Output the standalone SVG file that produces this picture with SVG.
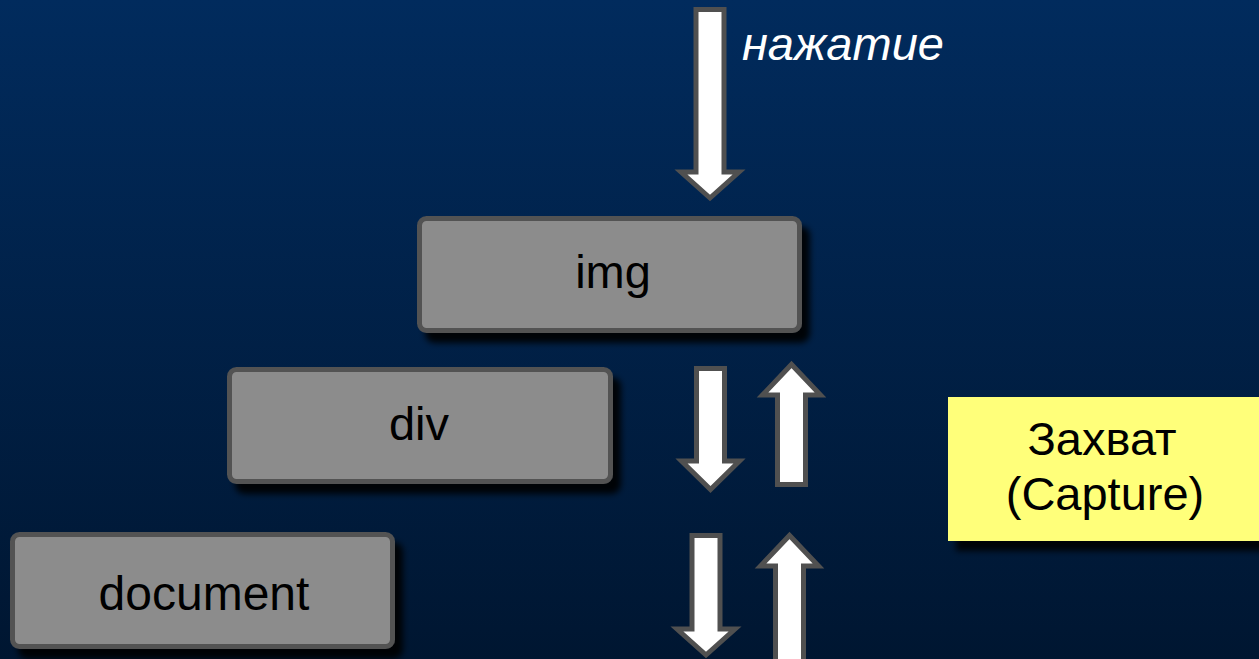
<svg xmlns="http://www.w3.org/2000/svg" width="1259" height="659" viewBox="0 0 1259 659">
  <defs>
    <linearGradient id="bg" x1="0" y1="0" x2="0" y2="1">
      <stop offset="0" stop-color="#012b5d"/>
      <stop offset="1" stop-color="#001631"/>
    </linearGradient>
    <filter id="shadow" x="-10%" y="-20%" width="130%" height="150%">
      <feDropShadow dx="8" dy="10" stdDeviation="3" flood-color="#000" flood-opacity="0.9"/>
    </filter>
  </defs>
  <style>
    .box { fill: #8c8c8c; stroke: #525252; stroke-width: 5; }
    .lbl { font-family: "Liberation Sans", Arial, sans-serif; font-size: 47px; fill: #000; text-anchor: middle; }
    .arrow { fill: #fff; stroke: #505050; stroke-width: 5; stroke-linejoin: miter; stroke-miterlimit: 10; }
    .note { fill: #ffff7a; }
    .click { font-family: "Liberation Sans", Arial, sans-serif; font-size: 47px; font-style: italic; fill: #fff; }
  </style>

  <rect width="1259" height="659" fill="url(#bg)"/>

  <g id="connectors">
    <!-- incoming click -->
    <path class="arrow" d="M696,9.5 H724 V172 H739 L710,198 L681,172 H696 Z"/>
    <!-- between img and div -->
    <path class="arrow" d="M696.5,368.5 H724.5 V461 H739.5 L710.5,489.5 L681.5,461 H696.5 Z"/>
    <path class="arrow" d="M777.5,484.5 H805.5 V395 H820.5 L791.5,364.5 L762.5,395 H777.5 Z"/>
    <!-- between div and document -->
    <path class="arrow" d="M692,535.5 H720 V629 H735 L706,655 L677,629 H692 Z"/>
    <path class="arrow" d="M775.5,664 H803.5 V566 H818.5 L789.5,535.5 L760.5,566 H775.5 Z"/>
  </g>

  <text id="click-label" class="click" x="742" y="60">нажатие</text>

  <g id="node-img">
    <rect class="box" x="419.5" y="218.5" width="380" height="112" rx="7" filter="url(#shadow)"/>
    <text class="lbl" x="613" y="288">img</text>
  </g>

  <g id="node-div">
    <rect class="box" x="229.5" y="369.5" width="381" height="112" rx="7" filter="url(#shadow)"/>
    <text class="lbl" x="419" y="440">div</text>
  </g>

  <g id="node-document">
    <rect class="box" x="12.5" y="534.5" width="380" height="112" rx="7" filter="url(#shadow)"/>
    <text class="lbl" x="204" y="610" style="font-size:48px">document</text>
  </g>

  <g id="note-capture">
    <rect class="note" x="948" y="397" width="320" height="144" filter="url(#shadow)"/>
    <text class="lbl" x="1102" y="455">Захват</text>
    <text class="lbl" x="1105" y="510">(Capture)</text>
  </g>
</svg>
